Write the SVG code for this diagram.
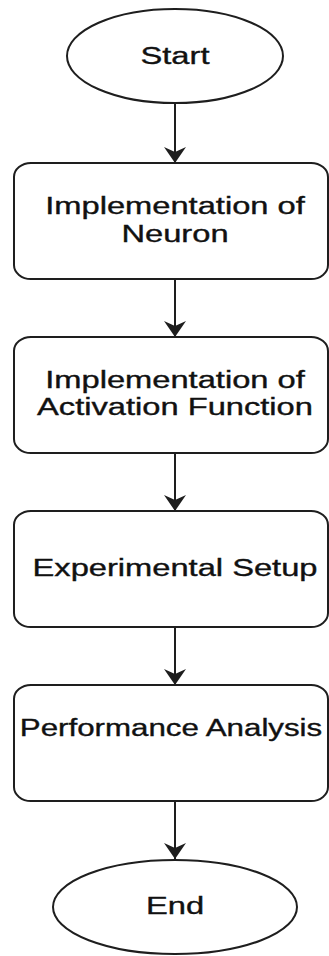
<svg xmlns="http://www.w3.org/2000/svg" width="329" height="956" viewBox="0 0 329 956">
  <style>
    .shape { fill: #ffffff; stroke: #1e1e1e; stroke-width: 2; }
    .edge { fill: none; stroke: #1e1e1e; stroke-width: 2; }
    .label { font-family: "Liberation Sans", Arial, sans-serif; font-size: 23px; fill: #111111; stroke: #111111; stroke-width: 0.35; text-anchor: middle; }
  </style>
  <defs>
    <marker id="arrow" markerUnits="userSpaceOnUse" markerWidth="16" markerHeight="22" viewBox="0 0 16 22" refX="16" refY="11" orient="auto">
      <path d="M16,11 L0,0 L5,11 L0,22 Z" fill="#1e1e1e"/>
    </marker>
  </defs>
  <rect width="329" height="956" fill="#ffffff"/>

  <!-- connectors -->
  <g id="connectors">
    <path class="edge" d="M175,103 L175,163" marker-end="url(#arrow)"/>
    <path class="edge" d="M175,279 L175,337" marker-end="url(#arrow)"/>
    <path class="edge" d="M175,453 L175,511" marker-end="url(#arrow)"/>
    <path class="edge" d="M175,627 L175,685" marker-end="url(#arrow)"/>
    <path class="edge" d="M175,801 L175,859" marker-end="url(#arrow)"/>
  </g>

  <g id="start">
    <ellipse class="shape" cx="175" cy="56" rx="108" ry="47"/>
    <text class="label" transform="translate(175,64) scale(1.42,1)">Start</text>
  </g>

  <g id="neuron">
    <rect class="shape" x="14" y="163" width="314" height="116" rx="17" ry="14"/>
    <text class="label" transform="translate(175,214) scale(1.42,1)">Implementation of</text>
    <text class="label" transform="translate(175,242) scale(1.42,1)">Neuron</text>
  </g>

  <g id="activation">
    <rect class="shape" x="14" y="337" width="314" height="116" rx="17" ry="14"/>
    <text class="label" transform="translate(175,388) scale(1.42,1)">Implementation of</text>
    <text class="label" transform="translate(175,415) scale(1.42,1)">Activation Function</text>
  </g>

  <g id="setup">
    <rect class="shape" x="14" y="511" width="314" height="116" rx="17" ry="14"/>
    <text class="label" transform="translate(175,576) scale(1.42,1)">Experimental Setup</text>
  </g>

  <g id="analysis">
    <rect class="shape" x="14" y="685" width="314" height="116" rx="17" ry="14"/>
    <text class="label" transform="translate(171,736) scale(1.36,1)">Performance Analysis</text>
  </g>

  <g id="end">
    <ellipse class="shape" cx="175" cy="907" rx="122" ry="47"/>
    <text class="label" transform="translate(175,914) scale(1.42,1)">End</text>
  </g>
</svg>
